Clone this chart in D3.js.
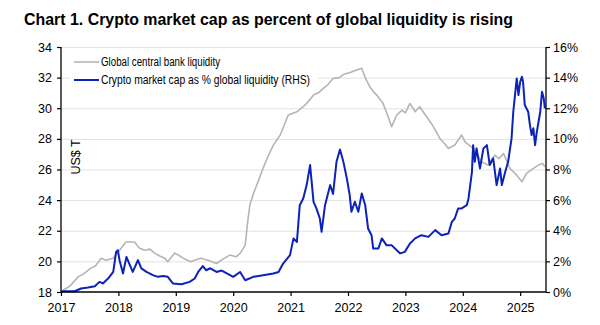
<!DOCTYPE html>
<html><head><meta charset="utf-8">
<script src="https://cdn.jsdelivr.net/npm/d3@7"></script>
<style>
body{margin:0;background:#fff;}
svg{display:block;}
text{font-family:"Liberation Sans Narrow","Arial Narrow","Liberation Sans",Arial,sans-serif;}
</style></head>
<body><svg id="c" width="600" height="325"></svg>
<script>
const titleText = "Chart 1. Crypto market cap as percent of global liquidity is rising";
const legendLabels = ["Global central bank liquidity", "Crypto market cap as % global liquidity (RHS)"];
const axisLabelLeft = "US$ T";
const xTickYears = [2017,2018,2019,2020,2021,2022,2023,2024,2025];
const leftTicks = [18,20,22,24,26,28,30,32,34];
const rightTicks = [0,2,4,6,8,10,12,14,16];

const liqDates = [2017.01,2017.16,2017.30,2017.40,2017.52,2017.60,2017.70,2017.78,2017.91,2018.02,2018.13,2018.28,2018.37,2018.46,2018.55,2018.63,2018.72,2018.81,2018.86,2018.98,2019.05,2019.13,2019.26,2019.35,2019.44,2019.56,2019.71,2019.82,2019.94,2020.05,2020.12,2020.21,2020.25,2020.29,2020.35,2020.41,2020.52,2020.60,2020.70,2020.82,2020.96,2021.11,2021.22,2021.30,2021.40,2021.50,2021.57,2021.65,2021.74,2021.85,2021.92,2022.05,2022.15,2022.24,2022.30,2022.38,2022.44,2022.50,2022.61,2022.70,2022.76,2022.85,2022.94,2023.00,2023.08,2023.17,2023.25,2023.37,2023.49,2023.60,2023.68,2023.75,2023.86,2023.98,2024.04,2024.18,2024.33,2024.44,2024.56,2024.63,2024.71,2024.82,2024.94,2025.03,2025.11,2025.23,2025.32,2025.39,2025.43];
const liqValues = [18.05,18.40,18.99,19.20,19.56,19.70,20.21,20.08,20.21,20.73,21.27,21.27,20.86,20.73,20.80,20.54,20.35,20.21,19.97,20.54,20.40,20.21,19.97,20.10,20.21,20.08,19.86,20.15,20.41,20.30,20.52,21.06,22.50,23.67,24.40,24.98,26.07,26.80,27.59,28.25,29.56,29.77,30.10,30.40,30.86,31.05,31.30,31.55,31.95,32.00,32.20,32.35,32.50,32.61,32.00,31.41,31.10,30.86,30.32,29.44,28.79,29.56,29.88,29.70,30.32,29.77,30.10,29.44,28.79,28.03,27.70,27.38,27.60,28.25,27.81,27.38,26.50,26.29,26.94,26.70,27.05,26.07,25.63,25.20,25.75,26.07,26.29,26.40,26.18];

const cryptoDates = [2017.01,2017.24,2017.35,2017.47,2017.59,2017.67,2017.73,2017.82,2017.91,2017.96,2017.99,2018.02,2018.08,2018.14,2018.20,2018.25,2018.34,2018.40,2018.49,2018.60,2018.69,2018.78,2018.86,2018.95,2019.10,2019.24,2019.33,2019.39,2019.47,2019.53,2019.60,2019.71,2019.80,2019.89,2020.00,2020.12,2020.21,2020.35,2020.52,2020.70,2020.79,2020.87,2020.99,2021.05,2021.11,2021.16,2021.22,2021.28,2021.34,2021.40,2021.45,2021.51,2021.54,2021.60,2021.69,2021.74,2021.80,2021.86,2021.92,2021.98,2022.03,2022.06,2022.12,2022.18,2022.24,2022.30,2022.35,2022.41,2022.44,2022.53,2022.59,2022.67,2022.76,2022.85,2022.91,2022.99,2023.08,2023.17,2023.28,2023.40,2023.52,2023.63,2023.75,2023.81,2023.86,2023.92,2023.98,2024.07,2024.10,2024.16,2024.18,2024.21,2024.24,2024.30,2024.36,2024.42,2024.47,2024.53,2024.59,2024.65,2024.68,2024.74,2024.79,2024.85,2024.88,2024.91,2024.94,2024.97,2025.00,2025.03,2025.05,2025.08,2025.14,2025.17,2025.20,2025.23,2025.26,2025.29,2025.32,2025.35,2025.38,2025.41,2025.43];
const cryptoValues = [0.05,0.05,0.23,0.29,0.38,0.66,0.56,0.88,1.31,2.62,2.73,2.08,1.21,2.29,1.75,1.31,2.08,1.54,1.31,1.10,0.99,1.05,0.99,0.56,0.51,0.66,0.88,1.31,1.69,1.42,1.55,1.31,1.40,1.21,0.99,1.31,0.77,0.99,1.10,1.21,1.31,1.86,2.41,3.50,3.27,5.67,6.11,6.98,8.29,5.89,5.46,4.80,3.93,5.67,6.98,6.40,8.50,9.30,8.50,7.42,6.33,5.24,5.89,5.24,6.44,5.67,4.15,3.71,2.84,2.84,3.50,3.06,3.06,2.73,2.52,2.62,3.17,3.50,3.71,3.60,4.04,3.71,3.82,4.58,4.80,5.46,5.46,5.67,6.11,7.85,9.59,8.50,9.38,8.07,9.38,9.59,8.29,8.73,6.98,8.07,6.98,7.85,8.50,10.03,11.77,12.86,13.95,12.86,13.73,14.06,13.73,12.21,11.77,10.90,10.25,10.69,9.59,10.46,11.12,11.77,13.08,12.65,11.99];

const svg = d3.select("#c");
const m = {left:61, right:546, top:47, bottom:292};
const x = d3.scaleLinear().domain([2017, 2025.45]).range([m.left, m.right]);
const yL = d3.scaleLinear().domain([18,34]).range([m.bottom, m.top]);
const yR = d3.scaleLinear().domain([0,16]).range([m.bottom, m.top]);

// title
svg.append("text").attr("x",24).attr("y",25)
  .attr("font-size",16).attr("font-weight","bold")
  .style("font-family","'Liberation Sans',Arial,sans-serif")
  .attr("textLength",489).attr("lengthAdjust","spacingAndGlyphs")
  .attr("fill","#000").text(titleText);

// gridlines
svg.append("g").selectAll("line").data(leftTicks.slice(1)).join("line")
  .attr("x1",m.left).attr("x2",m.right)
  .attr("y1",d=>yL(d)+0.5).attr("y2",d=>yL(d)+0.5)
  .attr("stroke","#e3e3e3").attr("stroke-width",1);

// lines
const lineL = d3.line().x((d,i)=>x(liqDates[i])).y(d=>yL(d));
const lineR = d3.line().x((d,i)=>x(cryptoDates[i])).y(d=>yR(d));
svg.append("path").datum(liqValues).attr("d",lineL)
  .attr("fill","none").attr("stroke","#b5b5b5").attr("stroke-width",1.6).attr("stroke-linejoin","round");
svg.append("path").datum(cryptoValues).attr("d",lineR)
  .attr("fill","none").attr("stroke","#0c22b8").attr("stroke-width",2).attr("stroke-linejoin","round");

// legend box
svg.append("rect").attr("x",70).attr("y",52).attr("width",248).attr("height",37).attr("fill","#fff");
const leg = [{c:"#b5b5b5",w:1.6,y:62,t:legendLabels[0],tl:119},{c:"#0c22b8",w:2,y:80,t:legendLabels[1],tl:209}];
leg.forEach(l=>{
  svg.append("line").attr("x1",74).attr("x2",99).attr("y1",l.y).attr("y2",l.y).attr("stroke",l.c).attr("stroke-width",l.w);
  svg.append("text").attr("x",101).attr("y",l.y+4).attr("font-size",12).attr("fill","#000")
    .attr("textLength",l.tl).attr("lengthAdjust","spacingAndGlyphs").text(l.t);
});

// axes
const axL = d3.axisLeft(yL).tickValues(leftTicks).tickSize(4).tickPadding(5).tickFormat(d3.format("d"));
const axR = d3.axisRight(yR).tickValues(rightTicks).tickSize(4).tickPadding(3).tickFormat(d=>d+"%");
const axB = d3.axisBottom(x).tickValues(xTickYears).tickSize(4).tickPadding(7).tickFormat(d3.format("d"));
function style(g){
  g.select(".domain").attr("stroke","#000").attr("stroke-width",1.3);
  g.selectAll(".tick line").attr("stroke","#000").attr("stroke-width",1.2);
  g.selectAll(".tick text").attr("fill","#000").attr("font-size",12.5)
   .style("font-family","'Liberation Sans Narrow','Arial Narrow','Liberation Sans',Arial,sans-serif");
}
svg.append("g").attr("transform",`translate(${m.left},0)`).call(axL).call(style).call(g=>g.select(".domain").attr("d",`M0,${m.top}V${m.bottom}`));
svg.append("g").attr("transform",`translate(${m.right},0)`).call(axR).call(style).call(g=>g.select(".domain").attr("d",`M0,${m.top}V${m.bottom}`));
svg.append("g").attr("transform",`translate(0,${m.bottom})`).call(axB).call(style).call(g=>g.select(".domain").attr("d",`M${m.left},0H${m.right}`));

// y label
svg.append("text").attr("transform","translate(80,157) rotate(-90)").attr("text-anchor","middle")
  .attr("font-size",12.5).attr("fill","#000").text(axisLabelLeft);
</script></body></html>
